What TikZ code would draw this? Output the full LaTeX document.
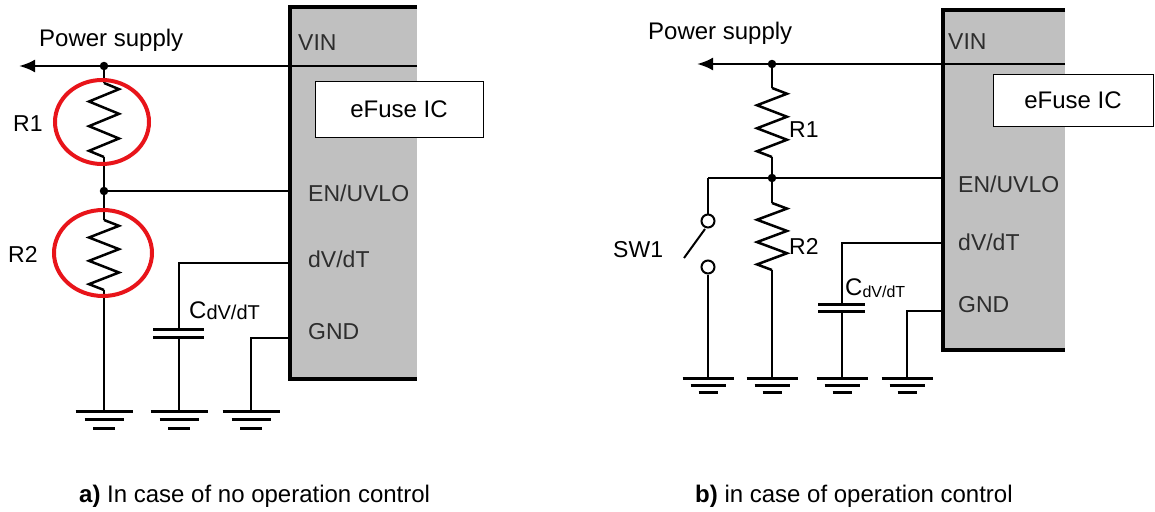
\documentclass[tikz,border=0pt]{standalone}
\usepackage{fontspec}
\setmainfont{Liberation Sans}
\usetikzlibrary{arrows.meta}
\definecolor{icgray}{RGB}{192,192,192}
\definecolor{pingray}{RGB}{45,45,45}
\definecolor{hlred}{RGB}{232,20,26}
\newcommand\zigres[4]{% x, y top, y bottom, amplitude
  \pgfmathsetmacro\zh{(#3-#2)/12}
  \draw[wire] (#1,#2) -- ++(#4,\zh) -- ++(-2*#4,2*\zh) -- ++(2*#4,2*\zh)
    -- ++(-2*#4,2*\zh) -- ++(2*#4,2*\zh) -- ++(-2*#4,2*\zh) -- ++(#4,\zh);}
\begin{document}
\begin{tikzpicture}[x=1pt,y=-1pt,
  wire/.style={line width=2.5pt},
  icedge/.style={line width=4.5pt, line join=miter},
  hl/.style={draw=hlred, line width=4pt},
  jdot/.style={circle, fill=black, inner sep=0pt, minimum size=8.5pt},
  gline/.style={line width=3pt},
  plate/.style={line width=3pt},
  lbl/.style={font=\fontsize{24}{28}\selectfont, inner sep=0pt, anchor=base west},
  pinlbl/.style={lbl, font=\fontsize{23}{27}\selectfont, text=pingray},
  efuse/.style={draw=black, line width=1pt, fill=white, minimum width=168pt, minimum height=56pt,
                font=\fontsize{24}{28}\selectfont, inner sep=0pt},
  swc/.style={circle, draw=black, fill=white, line width=2pt, inner sep=0pt, minimum size=13pt},
  arr/.style={wire, -{Latex[length=16pt,width=13pt]}},
  pics/gndL/.style={code={\draw[gline] (-28.5,0)--(28.5,0) (-19.5,8.5)--(19.5,8.5) (-11,17)--(11,17);}},
  pics/gndR/.style={code={\draw[gline] (-25.5,0)--(25.5,0) (-17.5,7.5)--(17.5,7.5) (-9.5,14.5)--(9.5,14.5);}}
]
\useasboundingbox (0,0) rectangle (1155,511);
\fill[white] (0,0) rectangle (1155,511);

% ================= LEFT PANEL =================
\fill[icgray] (290,7) rectangle (417,379);
\coordinate (LtipL) at (19,66);
\coordinate (LJ1) at (104,66);
\coordinate (LvinEnd) at (417,66);
\coordinate (LR1t) at (104,83);
\coordinate (LR1b) at (104,157);
\coordinate (LJ2) at (104,191);
\coordinate (LenEnd) at (290,191);
\coordinate (LR2t) at (104,220);
\coordinate (LR2b) at (104,290);
\coordinate (LG1) at (104,411);
\coordinate (LdvPin) at (290,263);
\coordinate (LdvC) at (179,263);
\coordinate (LC1) at (179,329);
\coordinate (LC2) at (179,337);
\coordinate (LG2) at (179,411);
\coordinate (LgndPin) at (290,338);
\coordinate (LgndC) at (251,338);
\coordinate (LG3) at (251,411);

\draw[wire] (LvinEnd) -- (LJ1);
\draw[arr] (LJ1) -- (LtipL);
\draw[wire] (LJ1) -- (LR1t);
\zigres{104}{83}{157}{15}
\draw[wire] (LR1b) -- (LJ2) -- (LenEnd);
\draw[wire] (LJ2) -- (LR2t);
\zigres{104}{220}{290}{15}
\draw[wire] (LR2b) -- (LG1);
\draw[wire] (LdvPin) -- (LdvC) -- (LC1);
\draw[plate] (153,329) -- (204,329) (153,337) -- (204,337);
\draw[wire] (LC2) -- (LG2);
\draw[wire] (LgndPin) -- (LgndC) -- (LG3);
\pic at (LG1) {gndL};
\pic at (LG2) {gndL};
\pic at (LG3) {gndL};
\node[jdot] at (LJ1) {};
\node[jdot] at (LJ2) {};
\draw[hl] (102,122) ellipse [x radius=47pt, y radius=42pt];
\draw[hl] (103,253) ellipse [x radius=49pt, y radius=43pt];
\draw[icedge] (417,7) -- (290,7) -- (290,379) -- (417,379);
\node[efuse] (Lefuse) at (399,109) {eFuse IC};

\node[lbl] (LPS) at (39,46) {Power supply};
\node[lbl, font=\fontsize{23}{27}\selectfont] (LR1l) at (13,131) {R1};
\node[lbl, font=\fontsize{23}{27}\selectfont] (LR2l) at (8,262) {R2};
\node[lbl] (LCl) at (189,318) {C\raisebox{-1.5pt}{\fontsize{20}{24}\selectfont dV/dT}};
\node[pinlbl] (LVIN) at (298,50) {VIN};
\node[pinlbl] (LEN) at (308,201) {EN/UVLO};
\node[pinlbl] (LDV) at (308,267) {dV/dT};
\node[pinlbl] (LGND) at (308,339) {GND};

% ================= RIGHT PANEL =================
\fill[icgray] (943,10) rectangle (1065,350);
\coordinate (RtipL) at (697,64);
\coordinate (RJ1) at (772,64);
\coordinate (RvinEnd) at (1065,64);
\coordinate (RR1t) at (772,88);
\coordinate (RR1b) at (772,157);
\coordinate (RJ2) at (772,178);
\coordinate (RswTop) at (708,178);
\coordinate (RenEnd) at (943,178);
\coordinate (RR2t) at (772,203);
\coordinate (RR2b) at (772,270);
\coordinate (RG2) at (772,378);
\coordinate (RG1) at (708,378);
\coordinate (RdvPin) at (943,243);
\coordinate (RdvC) at (842,243);
\coordinate (RC1) at (842,304);
\coordinate (RC2) at (842,310);
\coordinate (RG3) at (842,378);
\coordinate (RgndPin) at (943,311);
\coordinate (RgndC) at (907,311);
\coordinate (RG4) at (907,378);
\coordinate (RbladeA) at (684,258);
\coordinate (RbladeB) at (705,229);

\draw[wire] (RvinEnd) -- (RJ1);
\draw[arr] (RJ1) -- (RtipL);
\draw[wire] (RJ1) -- (RR1t);
\zigres{772}{88}{157}{15}
\draw[wire] (RR1b) -- (RJ2);
\draw[wire] (RswTop) -- (RenEnd);
\node[swc] (Rsw1) at (708,221) {};
\node[swc] (Rsw2) at (708,267) {};
\draw[wire] (RswTop) -- (Rsw1.north);
\draw[wire] (Rsw2.south) -- (RG1);
\draw[line width=2pt] (RbladeA) -- (RbladeB);
\draw[wire] (RJ2) -- (RR2t);
\zigres{772}{203}{270}{15}
\draw[wire] (RR2b) -- (RG2);
\draw[wire] (RdvPin) -- (RdvC) -- (RC1);
\draw[plate] (818,304) -- (865,304) (818,311) -- (865,311);
\draw[wire] (RC2) -- (RG3);
\draw[wire] (RgndPin) -- (RgndC) -- (RG4);
\pic at (RG1) {gndR};
\pic at (RG2) {gndR};
\pic at (RG3) {gndR};
\pic at (RG4) {gndR};
\node[jdot] at (RJ1) {};
\node[jdot] at (RJ2) {};
\draw[icedge] (1065,10) -- (943,10) -- (943,350) -- (1065,350);
\node[efuse, minimum width=160pt, minimum height=52pt] (Refuse) at (1073,100) {eFuse IC};

\node[lbl] (RPS) at (648,40) {Power supply};
\node[lbl, font=\fontsize{23}{27}\selectfont] (RR1l) at (789,137) {R1};
\node[lbl, font=\fontsize{23}{27}\selectfont] (RR2l) at (789,254) {R2};
\node[lbl, font=\fontsize{23}{27}\selectfont] (RSW) at (613,257) {SW1};
\node[lbl] (RCl) at (845,295) {C\raisebox{-2pt}{\fontsize{16}{19}\selectfont dV/dT}};
\node[pinlbl] (RVIN) at (948,49) {VIN};
\node[pinlbl] (REN) at (958,192) {EN/UVLO};
\node[pinlbl] (RDV) at (958,250) {dV/dT};
\node[pinlbl] (RGND) at (958,312) {GND};

% ================= CAPTIONS =================
\node[lbl] (capA) at (79,502) {\textbf{a)} In case of no operation control};
\node[lbl] (capB) at (695,502) {\textbf{b)} in case of operation control};
\end{tikzpicture}
\end{document}
